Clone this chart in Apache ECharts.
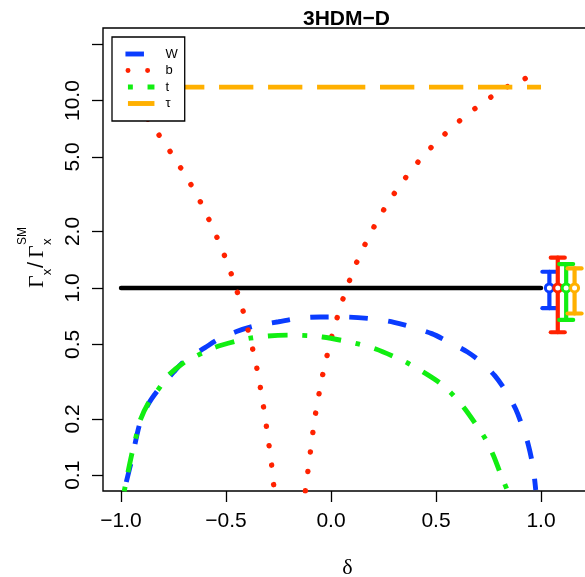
<!DOCTYPE html>
<html>
<head>
<meta charset="utf-8">
<script src="https://cdn.jsdelivr.net/npm/echarts@6/dist/echarts.min.js"></script>
<style>
  html, body { margin: 0; padding: 0; background: #fff; }
  #chart { width: 585px; height: 577px; }
</style>
</head>
<body>
<div id="chart"></div>
<script>
// Partial width ratios Gamma_x / Gamma_x^SM as a function of delta (3HDM-D)

// W boson
const wDelta = [-0.975, -0.95, -0.91, -0.87, -0.824, -0.75, -0.695, -0.6, -0.538, -0.45, -0.362, -0.25, -0.15, -0.05,
                0.05, 0.2, 0.3, 0.386, 0.48, 0.557, 0.65, 0.719, 0.78, 0.838, 0.88, 0.914, 0.94, 0.962, 0.975];
const wRatio = [0.092, 0.12, 0.19, 0.24, 0.285, 0.355, 0.41, 0.48, 0.53, 0.585, 0.627, 0.66, 0.69, 0.70,
                0.70, 0.683, 0.655, 0.617, 0.57, 0.517, 0.455, 0.398, 0.34, 0.275, 0.225, 0.179, 0.145, 0.111, 0.0835];

// bottom quark
const bDelta = [-1.0, -0.95, -0.9, -0.843, -0.789, -0.737, -0.686, -0.638, -0.595, -0.556, -0.519, -0.484, -0.454,
                -0.425, -0.401, -0.378, -0.357, -0.34, -0.324, -0.31, -0.297, -0.284, -0.275, -0.26, -0.19, -0.125,
                -0.113, -0.101, -0.089, -0.076, -0.06, -0.043, -0.022, 0.0, 0.027, 0.054, 0.086, 0.121, 0.16, 0.203,
                0.251, 0.302, 0.357, 0.416, 0.479, 0.548, 0.619, 0.694, 0.77, 0.852, 0.938, 1.0];
const bRatio = [11.8, 10.2, 8.75, 7.15, 5.85, 4.76, 3.87, 3.13, 2.5, 2.01, 1.61, 1.27, 1.01,
                0.80, 0.632, 0.498, 0.393, 0.31, 0.242, 0.19, 0.149, 0.117, 0.0918, 0.07, 0.001, 0.078,
                0.099, 0.126, 0.161, 0.206, 0.261, 0.331, 0.421, 0.534, 0.681, 0.855, 1.08, 1.36, 1.69, 2.1,
                2.61, 3.2, 3.9, 4.72, 5.66, 6.72, 7.92, 9.22, 10.6, 12.1, 13.3, 14.3];

// top quark
const tDelta = [-0.985, -0.97, -0.95, -0.93, -0.91, -0.87, -0.82, -0.776, -0.7, -0.633, -0.552, -0.45, -0.386, -0.3,
                -0.2, -0.1, -0.041, 0.05, 0.129, 0.213, 0.3, 0.367, 0.444, 0.52, 0.581, 0.638, 0.7, 0.733, 0.773, 0.81, 0.84];
const tRatio = [0.082, 0.10, 0.128, 0.158, 0.195, 0.243, 0.29, 0.34, 0.40, 0.438, 0.482, 0.52, 0.539, 0.554,
                0.56, 0.555, 0.547, 0.525, 0.502, 0.472, 0.43, 0.396, 0.353, 0.31, 0.268, 0.226, 0.18, 0.158, 0.128, 0.10, 0.083];

// tau lepton (flat), drawn as two halves
const tauLeftDelta = [-1, 0];
const tauRightDelta = [0, 1];
const tauRatio = 11.8;

// SM reference line
const refDelta = [-1, 1];
const refRatio = 1;

// measured signal strengths with uncertainties (W, b, t, tau)
const errNames = ['W', 'b', 't', 'τ'];
const errDelta = [1.04, 1.08, 1.12, 1.16];
const errCentral = [1, 1, 1, 1];
const errLow = [0.78, 0.58, 0.675, 0.73];
const errHigh = [1.22, 1.45, 1.34, 1.27];

// axis ticks
const xTickValues = [-1, -0.5, 0, 0.5, 1];
const xTickLabels = ['\u22121.0', '\u22120.5', '0.0', '0.5', '1.0'];
const yTickValues = [0.1, 0.2, 0.5, 1, 2, 5, 10, 20];
const yLabelValues = [0.1, 0.2, 0.5, 1, 2, 5, 10];
const yLabelTexts = ['0.1', '0.2', '0.5', '1.0', '2.0', '5.0', '10.0'];

const COLORS = { W: '#0a3cff', b: '#ff2200', t: '#11ee11', tau: '#ffb000' };
const errColors = [COLORS.W, COLORS.b, COLORS.t, COLORS.tau];
const LW = 4.9;

const zip = (xs, ys) => xs.map((x, i) => [x, Array.isArray(ys) ? ys[i] : ys]);

const chart = echarts.init(document.getElementById('chart'), null, { renderer: 'canvas' });

const sansFont = '"Liberation Sans", Arial, Helvetica, sans-serif';
const serifFont = '"Liberation Serif", "Times New Roman", serif';

const option = {
  animation: false,
  backgroundColor: '#fff',
  title: {
    text: '3HDM\u2212D',
    left: 303,
    top: 9,
    padding: 0,
    textStyle: { fontFamily: sansFont, fontSize: 21, fontWeight: 'bold', color: '#000' }
  },
  legend: {
    left: 112,
    top: 37,
    orient: 'vertical',
    selectedMode: false,
    backgroundColor: '#fff',
    borderColor: '#000',
    borderWidth: 1.3,
    borderRadius: 0,
    padding: [10.5, 7, 11, 11],
    itemWidth: 29,
    itemHeight: 5,
    itemGap: 3.5,
    itemStyle: { color: 'transparent', borderWidth: 0 },
    lineStyle: { width: LW },
    textStyle: { fontFamily: sansFont, fontSize: 13, color: '#000', lineHeight: 13, padding: [0, 0, 0, 6] },
    data: ['W', 'b', 't', 'τ'],
    z: 10
  },
  grid: {
    left: 103,
    top: 28,
    width: 489,
    height: 463,
    show: true,
    borderColor: '#000',
    borderWidth: 1.4,
    backgroundColor: 'transparent',
    outerBoundsMode: 'none'
  },
  xAxis: {
    type: 'value',
    min: -1.086,
    max: 1.243,
    axisLine: { show: false, onZero: false },
    splitLine: { show: false },
    axisTick: { show: true, inside: false, length: 11, customValues: xTickValues,
                lineStyle: { color: '#000', width: 1.3 } },
    axisLabel: {
      customValues: xTickValues,
      margin: 20,
      fontFamily: sansFont, fontSize: 21, color: '#000',
      formatter: v => xTickLabels[xTickValues.findIndex(t => Math.abs(t - v) < 1e-9)]
    },
    name: 'δ',
    nameLocation: 'middle',
    nameGap: 66,
    nameTextStyle: { fontFamily: serifFont, fontSize: 22, color: '#000' }
  },
  yAxis: {
    type: 'log',
    logBase: 10,
    min: 0.0824,
    max: 24.4,
    axisLine: { show: false, onZero: false },
    splitLine: { show: false },
    minorTick: { show: false },
    axisTick: { show: true, inside: false, length: 11, customValues: yTickValues,
                lineStyle: { color: '#000', width: 1.3 } },
    axisLabel: {
      customValues: yLabelValues,
      rotate: 90,
      margin: 19,
      fontFamily: sansFont, fontSize: 21, color: '#000',
      formatter: v => {
        const i = yLabelValues.findIndex(t => Math.abs(t - v) / t < 1e-6);
        return i >= 0 ? yLabelTexts[i] : '';
      }
    }
  },
  graphic: [{
    type: 'group',
    x: 45,
    y: 259.5,
    rotation: Math.PI / 2,
    silent: true,
    children: [
      { type: 'text', x: -28.5, y: -7.4, style: { text: 'Γ', font: '22px ' + serifFont, fill: '#000', align: 'left', verticalAlign: 'middle' } },
      { type: 'text', x: -15.8, y: 2.0, style: { text: 'x', font: '13px ' + sansFont, fill: '#000', align: 'left', verticalAlign: 'middle' } },
      { type: 'text', x: -8.5, y: -7.6, style: { text: '/', font: '22px ' + sansFont, fill: '#000', align: 'left', verticalAlign: 'middle' } },
      { type: 'text', x: 1.5, y: -7.4, style: { text: 'Γ', font: '22px ' + serifFont, fill: '#000', align: 'left', verticalAlign: 'middle' } },
      { type: 'text', x: 14.5, y: 2.0, style: { text: 'x', font: '13px ' + sansFont, fill: '#000', align: 'left', verticalAlign: 'middle' } },
      { type: 'text', x: 14.5, y: -22.5, style: { text: 'SM', font: '12px ' + sansFont, fill: '#000', align: 'left', verticalAlign: 'middle' } }
    ]
  }],
  series: [
    {
      name: 'SM', type: 'line', data: zip(refDelta, refRatio), symbol: 'none',
      lineStyle: { color: '#000', width: 4.5, cap: 'round' }, z: 3
    },
    {
      name: 'W', type: 'line', data: zip(wDelta, wRatio), symbol: 'none', smooth: 0.3,
      color: COLORS.W,
      lineStyle: { color: COLORS.W, width: LW, type: [18.5, 20.5], cap: 'butt' }, z: 4
    },
    {
      name: 'b', type: 'line', data: zip(bDelta, bRatio), symbol: 'none',
      color: COLORS.b,
      lineStyle: { color: COLORS.b, width: 5.4, type: [0.1, 19.5], dashOffset: -2.5, cap: 'round' }, z: 4
    },
    {
      name: 't', type: 'line', data: zip(tDelta, tRatio), symbol: 'none', smooth: 0.3,
      color: COLORS.t,
      lineStyle: { color: COLORS.t, width: LW, type: [4.9, 14.7, 19.6, 14.7], cap: 'butt' }, z: 4
    },
    {
      name: 'τ', type: 'line', data: zip(tauLeftDelta, tauRatio), symbol: 'none',
      color: COLORS.tau,
      lineStyle: { color: COLORS.tau, width: LW, type: [34.3, 14.7], cap: 'butt' }, z: 4
    },
    {
      name: 'τ', type: 'line', data: zip(tauRightDelta, tauRatio), symbol: 'none',
      color: COLORS.tau,
      lineStyle: { color: COLORS.tau, width: LW, type: [34.3, 14.7], cap: 'butt' }, z: 4
    },
    {
      name: 'measured', type: 'custom',
      data: errDelta.map((d, i) => [d, errCentral[i], errLow[i], errHigh[i]]),
      encode: { x: 0, y: [1, 2, 3] },
      z: 5,
      renderItem: (params, api) => {
        const d = api.value(0);
        const pMid = api.coord([d, api.value(1)]);
        const pLo = api.coord([d, api.value(2)]);
        const pHi = api.coord([d, api.value(3)]);
        const color = errColors[params.dataIndex];
        const hw = 7;
        const stroke = { stroke: color, lineWidth: 4.2, lineCap: 'round' };
        return {
          type: 'group',
          children: [
            { type: 'line', shape: { x1: pLo[0], y1: pLo[1], x2: pHi[0], y2: pHi[1] }, style: stroke },
            { type: 'line', shape: { x1: pHi[0] - hw, y1: pHi[1], x2: pHi[0] + hw, y2: pHi[1] }, style: stroke },
            { type: 'line', shape: { x1: pLo[0] - hw, y1: pLo[1], x2: pLo[0] + hw, y2: pLo[1] }, style: stroke },
            { type: 'circle', shape: { cx: pMid[0], cy: pMid[1], r: 4 }, style: { fill: '#fff', stroke: color, lineWidth: 3 } }
          ]
        };
      }
    }
  ]
};

chart.setOption(option);
</script>
</body>
</html>
